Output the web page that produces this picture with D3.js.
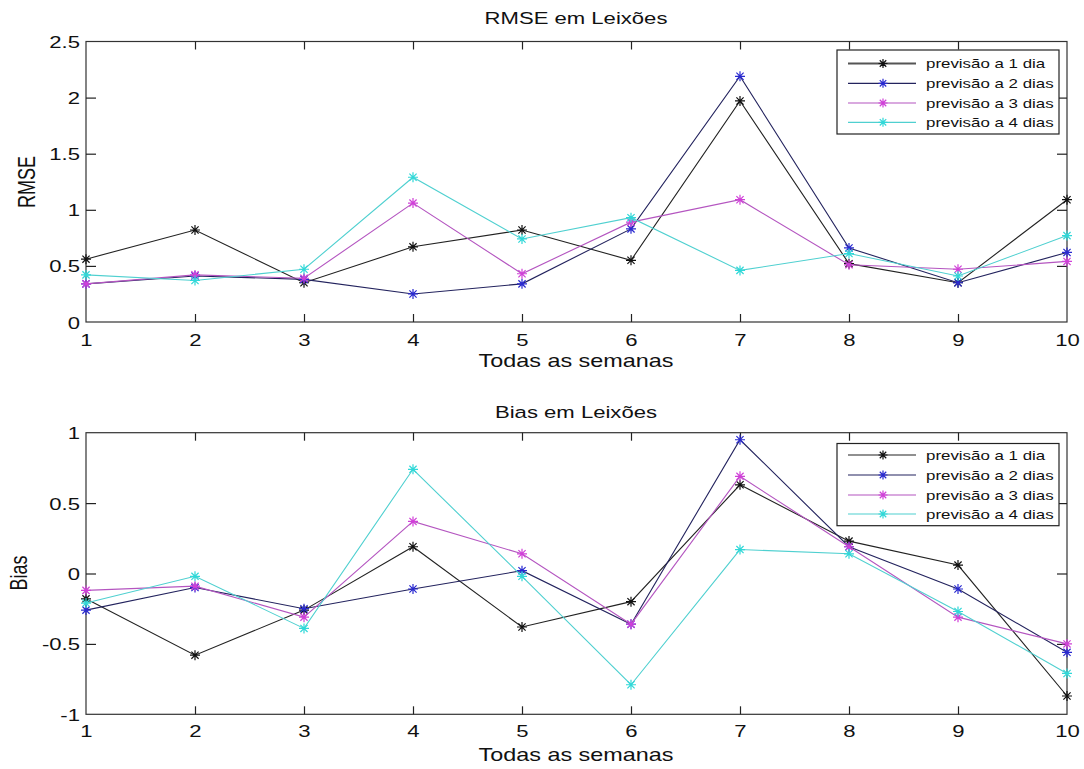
<!DOCTYPE html>
<html>
<head>
<meta charset="utf-8">
<script src="https://cdn.jsdelivr.net/npm/d3@7/dist/d3.min.js"></script>
<style>
  html, body { margin: 0; padding: 0; background: #fff; }
  svg { display: block; }
  text { font-family: "Liberation Sans", Arial, sans-serif; fill: #111; }
</style>
</head>
<body>
<svg id="chart" width="1084" height="769"></svg>
<script>
// ---------- data ----------
const weeks = [1, 2, 3, 4, 5, 6, 7, 8, 9, 10];
const seriesNames = ["previsão a 1 dia", "previsão a 2 dias", "previsão a 3 dias", "previsão a 4 dias"];

const rmse1 = [0.56, 0.82, 0.35, 0.67, 0.82, 0.55, 1.97, 0.52, 0.35, 1.09];
const rmse2 = [0.34, 0.41, 0.38, 0.25, 0.34, 0.83, 2.19, 0.66, 0.35, 0.62];
const rmse3 = [0.34, 0.42, 0.39, 1.06, 0.43, 0.89, 1.09, 0.51, 0.47, 0.54];
const rmse4 = [0.42, 0.37, 0.47, 1.29, 0.74, 0.93, 0.46, 0.61, 0.41, 0.77];

const bias1 = [-0.18, -0.58, -0.26, 0.19, -0.38, -0.20, 0.63, 0.23, 0.06, -0.87];
const bias2 = [-0.26, -0.10, -0.25, -0.11, 0.02, -0.36, 0.95, 0.19, -0.11, -0.56];
const bias3 = [-0.12, -0.09, -0.31, 0.37, 0.14, -0.36, 0.69, 0.19, -0.31, -0.50];
const bias4 = [-0.21, -0.02, -0.39, 0.74, -0.02, -0.79, 0.17, 0.14, -0.27, -0.71];

const rmseTicks = [0, 0.5, 1, 1.5, 2, 2.5];
const rmseTickLabels = ["0", "0.5", "1", "1.5", "2", "2.5"];
const biasTicks = [-1, -0.5, 0, 0.5, 1];
const biasTickLabels = ["-1", "-0.5", "0", "0.5", "1"];

// ---------- styles ----------
const lineColors = ["#222222", "#23235e", "#b455c0", "#4fd0d0"];
const markerColors = ["#111111", "#2a2ad0", "#d040d8", "#30d8d8"];
const SX = 1.3; // horizontal stretch of the original raster text

const svg = d3.select("#chart");

function stretchText(sel, x, y) {
  sel.attr("x", 0).attr("y", 0).attr("dy", null)
     .attr("transform", `translate(${x},${y}) scale(${SX},1)`);
}

function asterisk(g, cx, cy, r, color) {
  const d = `M${cx - r},${cy}L${cx + r},${cy}M${cx},${cy - r}L${cx},${cy + r}` +
            `M${cx - r * 0.72},${cy - r * 0.72}L${cx + r * 0.72},${cy + r * 0.72}` +
            `M${cx - r * 0.72},${cy + r * 0.72}L${cx + r * 0.72},${cy - r * 0.72}`;
  g.append("path").attr("d", d).attr("stroke", color).attr("stroke-width", 1.2).attr("fill", "none");
}

function drawPanel(cfg) {
  const x = d3.scaleLinear().domain([1, 10]).range([86, 1067]);
  const y = d3.scaleLinear().domain(cfg.domain).range([cfg.bottom, cfg.top]);
  const g = svg.append("g");

  // frame
  g.append("rect").attr("x", 86).attr("y", cfg.top)
    .attr("width", 1067 - 86).attr("height", cfg.bottom - cfg.top)
    .attr("fill", "none").attr("stroke", "#333").attr("stroke-width", 1.2);

  // axes (inward ticks)
  const xb = g.append("g").attr("transform", `translate(0,${cfg.bottom})`)
    .call(d3.axisBottom(x).tickValues(weeks).tickFormat(d3.format("d")).tickSizeInner(-8).tickSizeOuter(0));
  const xt = g.append("g").attr("transform", `translate(0,${cfg.top})`)
    .call(d3.axisTop(x).tickValues(weeks).tickFormat("").tickSizeInner(-8).tickSizeOuter(0));
  const yl = g.append("g").attr("transform", `translate(86,0)`)
    .call(d3.axisLeft(y).tickValues(cfg.ticks).tickFormat((d, i) => cfg.tickLabels[i]).tickSizeInner(-10).tickSizeOuter(0));
  const yr = g.append("g").attr("transform", `translate(1067,0)`)
    .call(d3.axisRight(y).tickValues(cfg.ticks).tickFormat("").tickSizeInner(-10).tickSizeOuter(0));

  [xb, xt, yl, yr].forEach(a => {
    a.select(".domain").remove();
    a.selectAll(".tick line").attr("stroke", "#222").attr("stroke-width", 1.2);
  });
  // remove ticks coinciding with the frame corners
  xb.selectAll(".tick").filter(d => d === 1 || d === 10).select("line").remove();
  xt.selectAll(".tick").filter(d => d === 1 || d === 10).select("line").remove();
  yl.selectAll(".tick").filter(d => d === cfg.domain[0] || d === cfg.domain[1]).select("line").remove();
  yr.selectAll(".tick").filter(d => d === cfg.domain[0] || d === cfg.domain[1]).select("line").remove();

  xb.selectAll(".tick text").attr("font-size", 17).attr("font-family", "Liberation Sans, Arial, sans-serif")
    .attr("fill", "#111").attr("text-anchor", "middle").attr("dominant-baseline", "central")
    .each(function () { stretchText(d3.select(this), 0, cfg.xTickDy); });
  yl.selectAll(".tick text").attr("font-size", 17).attr("font-family", "Liberation Sans, Arial, sans-serif")
    .attr("fill", "#111").attr("text-anchor", "end").attr("dominant-baseline", "central")
    .each(function () { stretchText(d3.select(this), -6, 0); });

  // series
  const line = d3.line().x((d, i) => x(weeks[i])).y(d => y(d));
  cfg.series.forEach((s, k) => {
    g.append("path").datum(s).attr("d", line).attr("fill", "none")
      .attr("stroke", lineColors[k]).attr("stroke-width", 1.1);
    const mg = g.append("g");
    s.forEach((v, i) => asterisk(mg, x(weeks[i]), y(v), 5, markerColors[k]));
  });

  // title and labels
  g.append("text").text(cfg.title).attr("font-size", 17).attr("text-anchor", "middle")
    .attr("dominant-baseline", "central").attr("fill", "#222")
    .attr("transform", `translate(576,${cfg.titleY}) scale(${SX},1)`);
  g.append("text").text("Todas as semanas").attr("font-size", 18).attr("text-anchor", "middle")
    .attr("dominant-baseline", "central").attr("fill", "#111")
    .attr("transform", `translate(576,${cfg.xLabelY}) scale(${SX},1)`);
  g.append("text").text(cfg.yLabel).attr("font-size", 18).attr("text-anchor", "middle")
    .attr("dominant-baseline", "central").attr("fill", "#111")
    .attr("transform", `translate(${cfg.yLabelX},${cfg.yLabelY}) scale(${SX},1) rotate(-90)`);

  // legend
  const L = cfg.legend;
  const lg = g.append("g");
  lg.append("rect").attr("x", 837).attr("y", L.top).attr("width", 1059 - 837).attr("height", L.bottom - L.top)
    .attr("fill", "#fff").attr("stroke", "#222").attr("stroke-width", 1.2);
  seriesNames.forEach((name, k) => {
    const ry = L.rows[k];
    lg.append("line").attr("x1", 848).attr("x2", 916).attr("y1", ry).attr("y2", ry)
      .attr("stroke", (k === 0 && L.boldFirst) ? "#555" : lineColors[k])
      .attr("stroke-width", (k === 0 && L.boldFirst) ? 2.2 : 1.2);
    asterisk(lg, 883, ry, 4.5, markerColors[k]);
    lg.append("text").text(name).attr("font-size", 13).attr("fill", "#333")
      .attr("dominant-baseline", "central")
      .attr("transform", `translate(926,${ry}) scale(${SX},1)`);
  });
}

drawPanel({
  domain: [0, 2.5], top: 41.5, bottom: 322,
  ticks: rmseTicks, tickLabels: rmseTickLabels,
  series: [rmse1, rmse2, rmse3, rmse4],
  title: "RMSE em Leixões", titleY: 18, xLabelY: 361, xTickDy: 18,
  yLabel: "RMSE", yLabelX: 27, yLabelY: 182,
  legend: { top: 50, bottom: 134, rows: [63.5, 83.3, 103, 122.3], boldFirst: true }
});

drawPanel({
  domain: [-1, 1], top: 432.7, bottom: 714.3,
  ticks: biasTicks, tickLabels: biasTickLabels,
  series: [bias1, bias2, bias3, bias4],
  title: "Bias em Leixões", titleY: 412, xLabelY: 755, xTickDy: 16.5,
  yLabel: "Bias", yLabelX: 19, yLabelY: 573,
  legend: { top: 443.5, bottom: 525.7, rows: [455, 475, 495, 514], boldFirst: false }
});
</script>
</body>
</html>
